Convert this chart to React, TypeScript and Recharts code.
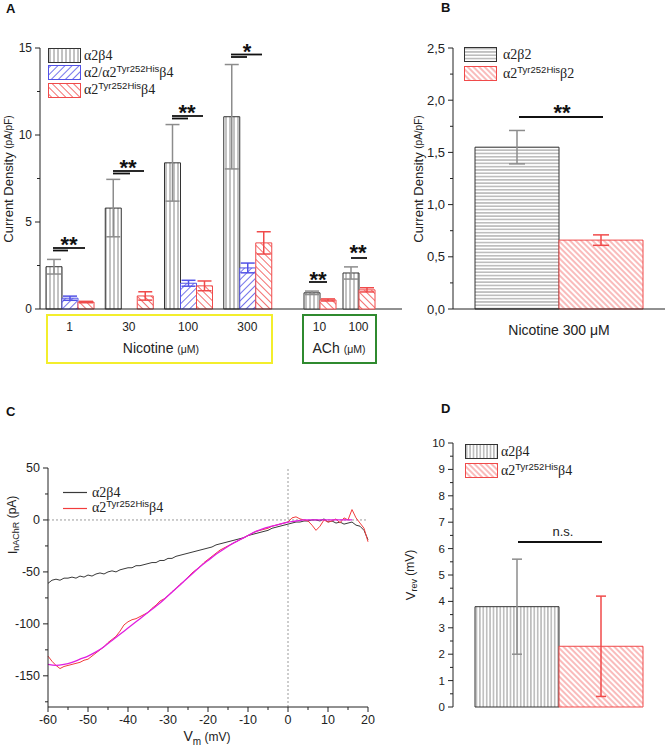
import React from "react";
import {
  Bar,
  BarChart,
  ErrorBar,
  Legend,
  Line,
  LineChart,
  ReferenceLine,
  XAxis,
  YAxis,
} from "recharts";

const SANS = "'Liberation Sans', Arial, Helvetica, sans-serif";
const SERIF = "'Liberation Serif', 'Times New Roman', serif";
const INK = "#222";
const RED = "#f04a4a";
const BLUE = "#5252e6";
const GREY_ERR = "#8c8c8c";

// ---- A: current density, nicotine and ACh
const nicConc = ["1", "30", "100", "300"];
const nicWt = [2.43, 5.8, 8.4, 11.05];
const nicWtErr = [0.42, 1.65, 2.2, 3.0];
const nicHet = [0.62, null, 1.48, 2.36];
const nicHetErr = [0.12, null, 0.17, 0.28];
const nicMut = [0.4, 0.75, 1.33, 3.8];
const nicMutErr = [0.04, 0.24, 0.28, 0.64];

const achConc = ["10", "100"];
const achWt = [0.93, 2.07];
const achWtErr = [0.1, 0.35];
const achMut = [0.52, 1.1];
const achMutErr = [0.06, 0.12];

// ---- B: alpha2 beta2, nicotine 300 uM
const bCond = ["Nicotine 300 μM"];
const bWt = [1.55];
const bWtErr = [0.16];
const bMut = [0.66];
const bMutErr = [0.05];

const vm = [
  -60, -59, -58, -57, -56, -55, -54, -53, -52, -51,
  -50, -49, -48, -47, -46, -45, -44, -43, -42, -41,
  -40, -39, -38, -37, -36, -35, -34, -33, -32, -31,
  -30, -29, -28, -27, -26, -25, -24, -23, -22, -21,
  -20, -19, -18, -17, -16, -15, -14, -13, -12, -11,
  -10, -9, -8, -7, -6, -5, -4, -3, -2, -1,
  0, 1, 2, 3, 4, 5, 6, 7, 8, 9,
  10, 11, 12, 13, 14, 15, 16, 17, 18, 19,
  20,
];
const iWt = [
  -61, -58, -57, -58, -56, -56, -55, -56, -54, -55,
  -53, -54, -52, -51, -52, -50, -49, -50, -48, -47,
  -46, -46, -44, -44, -43, -42, -41, -41, -39, -39,
  -37, -37, -35, -34, -33, -32, -31, -30, -29, -28,
  -27, -26, -24, -23, -22, -21, -20, -19, -18, -17,
  -15, -14, -13, -12, -11, -10, -8, -7, -6, -5,
  -4, -3, -2, -2, -1, -1, 0, 0, -1, 1,
  -2, -1, -3, -2, -4, -3, -2, -5, -6, -10,
  -19,
];
const iMut = [
  -131, -136, -140, -143, -141, -140, -139, -138, -137, -135,
  -134, -131, -128, -125, -122, -118, -115, -112, -107, -101,
  -98, -96, -95, -93, -91, -89, -85, -82, -78, -76,
  -73, -69, -66, -62, -59, -55, -51, -48, -45, -41,
  -38, -35, -32, -29, -27, -25, -23, -21, -19, -17,
  -15, -13, -11, -10, -9, -8, -6, -5, -4, -3,
  -2, 2, 3, 1, 0, -1, -5, -10, -6, 0,
  -2, -1, 1, -3, 2, 0, 10, 2, -3, -8,
  -21,
];
const fitVm = [
  -60, -58, -56, -54, -52, -50, -48, -46, -44, -42,
  -40, -38, -36, -34, -32, -30, -28, -26, -24, -22,
  -20, -18, -16, -14, -12, -10, -8, -6, -4, -2,
  0, 2, 4, 6, 8, 10, 12, 14, 16,
];
const fitI = [
  -139, -140, -139, -137, -134, -131, -127, -122, -116, -110,
  -104, -98, -92, -86, -80, -73, -66, -59, -52, -45,
  -39, -33, -28, -23, -19, -15, -11, -8, -6, -4,
  -2, -1, 0, 0, 0, 0, 0, 0, 0,
];

// ---- D: reversal potential
const dWt = [3.8];
const dWtErr = [1.8];
const dMut = [2.3];
const dMutErr = [1.9];

// tick lists
const aTicks = [0, 2.5, 5, 7.5, 10, 12.5, 15];
const bTicks = [0, 0.25, 0.5, 0.75, 1, 1.25, 1.5, 1.75, 2, 2.25, 2.5];
const cXTicks = [-60, -55, -50, -45, -40, -35, -30, -25, -20, -15, -10, -5, 0, 5, 10, 15, 20];
const cYTicks = [-175, -150, -125, -100, -75, -50, -25, 0, 25, 50];
const dTicks = [0, 0.5, 1, 1.5, 2, 2.5, 3, 3.5, 4, 4.5, 5, 5.5, 6, 6.5, 7, 7.5, 8, 8.5, 9, 9.5, 10];

const nicRows = nicConc.map((conc, i) => ({
  conc,
  wt: nicWt[i],
  wtErr: nicWtErr[i],
  het: nicHet[i],
  hetErr: nicHetErr[i],
  mut: nicMut[i],
  mutErr: nicMutErr[i],
}));
const achRows = achConc.map((conc, i) => ({
  conc,
  wt: achWt[i],
  wtErr: achWtErr[i],
  mut: achMut[i],
  mutErr: achMutErr[i],
}));
const bRows = bCond.map((name, i) => ({
  name,
  wt: bWt[i],
  wtErr: bWtErr[i],
  mut: bMut[i],
  mutErr: bMutErr[i],
}));
const cRows = vm.map((v, i) => ({ v, wt: iWt[i], mut: iMut[i] }));
const fitRows = fitVm.map((v, i) => ({ v, fit: fitI[i] }));
const dRows = dWt.map((wt, i) => ({ name: "", wt, wtErr: dWtErr[i], mut: dMut[i], mutErr: dMutErr[i] }));

// y ticks with short minor ticks, labels only on majors
const yTick =
  (isMajor: (v: number) => boolean, fmt: (v: number) => string, fontSize: number) =>
  (p: any) => {
    const v = p.payload.value as number;
    const major = isMajor(v);
    const len = major ? 5 : 3;
    return (
      <g>
        <line x1={p.x - len} x2={p.x} y1={p.y} y2={p.y} stroke={INK} />
        {major && (
          <text x={p.x - len - 3} y={p.y} dy="0.35em" textAnchor="end" fontSize={fontSize} fontFamily={SANS} fill={INK}>
            {fmt(v)}
          </text>
        )}
      </g>
    );
  };

const xTickC = (p: any) => {
  const v = p.payload.value as number;
  const major = v % 10 === 0;
  return (
    <g>
      <line x1={p.x} x2={p.x} y1={p.y} y2={p.y + (major ? 5 : 3)} stroke={INK} />
      {major && (
        <text x={p.x} y={p.y + 17} textAnchor="middle" fontSize={12.5} fontFamily={SANS} fill={INK}>
          {v}
        </text>
      )}
    </g>
  );
};

const catTick = (dy: number, fontSize: number) => (p: any) => (
  <text x={p.x} y={p.y + dy} textAnchor="middle" fontSize={fontSize} fontFamily={SANS} fill={INK}>
    {p.payload.value}
  </text>
);

const rotLabel = (x: number, y: number, body: React.ReactNode) => () => (
  <text
    transform={`translate(${x},${y}) rotate(-90)`}
    textAnchor="middle"
    dominantBaseline="central"
    fontFamily={SANS}
    fontSize={13}
    fill={INK}
  >
    {body}
  </text>
);

const comma = (v: number) => v.toFixed(1).replace(".", ",");

function Patterns() {
  return (
    <svg width={0} height={0} style={{ position: "absolute" }}>
      <defs>
        <pattern id="pAv" width={4} height={4} patternUnits="userSpaceOnUse">
          <rect width={4} height={4} fill="#fff" />
          <line x1={2} y1={0} x2={2} y2={4} stroke="#666" strokeWidth={0.8} />
        </pattern>
        <pattern id="pDv" width={3.4} height={4} patternUnits="userSpaceOnUse">
          <rect width={3.4} height={4} fill="#fff" />
          <line x1={1.7} y1={0} x2={1.7} y2={4} stroke="#555" strokeWidth={0.7} />
        </pattern>
        <pattern id="pBh" width={4} height={3.3} patternUnits="userSpaceOnUse">
          <rect width={4} height={3.3} fill="#fff" />
          <line x1={0} y1={1.65} x2={4} y2={1.65} stroke="#555" strokeWidth={0.7} />
        </pattern>
        <pattern id="pBlue" width={5} height={5} patternUnits="userSpaceOnUse" patternTransform="rotate(45)">
          <rect width={5} height={5} fill="#fff" />
          <line x1={2.5} y1={0} x2={2.5} y2={5} stroke={BLUE} strokeWidth={0.8} />
        </pattern>
        <pattern id="pRed" width={5} height={5} patternUnits="userSpaceOnUse" patternTransform="rotate(-45)">
          <rect width={5} height={5} fill="#fff" />
          <line x1={2.5} y1={0} x2={2.5} y2={5} stroke={RED} strokeWidth={0.8} />
        </pattern>
        <pattern id="pRedFine" width={4} height={4} patternUnits="userSpaceOnUse" patternTransform="rotate(-45)">
          <rect width={4} height={4} fill="#fff" />
          <line x1={2} y1={0} x2={2} y2={4} stroke={RED} strokeWidth={0.75} />
        </pattern>
      </defs>
    </svg>
  );
}

const Sup = ({ children }: { children: React.ReactNode }) => (
  <span style={{ fontFamily: SANS, fontSize: 9.5, position: "relative", top: -5 }}>{children}</span>
);

function Swatch({ fill, stroke }: { fill: string; stroke: string }) {
  return (
    <svg width={33} height={15} style={{ display: "block", flex: "none" }}>
      <rect x={0.5} y={0.5} width={32} height={14} fill={fill} stroke={stroke} />
    </svg>
  );
}

function LineSwatch({ color }: { color: string }) {
  return (
    <svg width={24} height={13} style={{ display: "block", flex: "none" }}>
      <line x1={0} x2={24} y1={6.5} y2={6.5} stroke={color} strokeWidth={1.2} />
    </svg>
  );
}

type Row = { swatch: React.ReactNode; label: React.ReactNode };

function LegendRows({ rows, pitch, gap }: { rows: Row[]; pitch: number; gap: number }) {
  return (
    <div style={{ fontFamily: SERIF, fontSize: 14, color: INK, lineHeight: "15px", whiteSpace: "nowrap" }}>
      {rows.map((r, i) => (
        <div key={i} style={{ display: "flex", alignItems: "center", height: pitch }}>
          {r.swatch}
          <span style={{ marginLeft: gap }}>{r.label}</span>
        </div>
      ))}
    </div>
  );
}

function PanelA() {
  return (
    <div style={{ position: "absolute", left: 0, top: 0 }}>
      <BarChart width={420} height={370} data={nicRows} margin={{ top: 48, right: 18, bottom: 31, left: 8 }} barGap={0}>
        <XAxis
          dataKey="conc"
          height={30}
          padding={{ left: 0, right: 125 }}
          interval={0}
          tickSize={0}
          tickMargin={0}
          tickLine={false}
          tick={catTick(22, 12)}
          axisLine={{ stroke: INK }}
        />
        <YAxis
          domain={[0, 15]}
          ticks={aTicks}
          interval={0}
          width={32}
          tickSize={0}
          tickMargin={0}
          tickLine={false}
          tick={yTick((v) => v % 5 === 0, String, 12)}
          axisLine={{ stroke: INK }}
          label={{
            content: rotLabel(8, 179, (
              <>
                Current Density <tspan fontSize={10}>(pA/pF)</tspan>
              </>
            )),
          }}
        />
        <Bar dataKey="wt" barSize={16} fill="url(#pAv)" stroke="#333" isAnimationActive={false}>
          <ErrorBar dataKey="wtErr" width={7} stroke={GREY_ERR} />
        </Bar>
        <Bar dataKey="het" barSize={16} fill="url(#pBlue)" stroke={BLUE} isAnimationActive={false}>
          <ErrorBar dataKey="hetErr" width={7} stroke={BLUE} />
        </Bar>
        <Bar dataKey="mut" barSize={16} fill="url(#pRed)" stroke={RED} isAnimationActive={false}>
          <ErrorBar dataKey="mutErr" width={7} stroke={RED} />
        </Bar>
        <Legend
          layout="vertical"
          align="center"
          verticalAlign="middle"
          wrapperStyle={{ left: 48, top: 46.5, width: 200, height: 53 }}
          content={() => (
            <LegendRows
              pitch={17.5}
              gap={3}
              rows={[
                { swatch: <Swatch fill="url(#pAv)" stroke="#333" />, label: "α2β4" },
                {
                  swatch: <Swatch fill="url(#pBlue)" stroke={BLUE} />,
                  label: (
                    <>
                      α2/α2<Sup>Tyr252His</Sup>β4
                    </>
                  ),
                },
                {
                  swatch: <Swatch fill="url(#pRed)" stroke={RED} />,
                  label: (
                    <>
                      α2<Sup>Tyr252His</Sup>β4
                    </>
                  ),
                },
              ]}
            />
          )}
        />
      </BarChart>
      <div style={{ position: "absolute", left: 0, top: 0 }}>
        <BarChart width={420} height={370} data={achRows} margin={{ top: 48, right: 18, bottom: 31, left: 40 }} barGap={0}>
          <XAxis
            dataKey="conc"
            height={30}
            padding={{ left: 260, right: 24 }}
            interval={0}
            tickSize={0}
            tickMargin={0}
            tickLine={false}
            tick={catTick(22, 12)}
            axisLine={false}
          />
          <YAxis hide domain={[0, 15]} />
          <Bar dataKey="wt" barSize={16} fill="url(#pAv)" stroke="#333" isAnimationActive={false}>
            <ErrorBar dataKey="wtErr" width={7} stroke={GREY_ERR} />
          </Bar>
          <Bar dataKey="mut" barSize={16} fill="url(#pRed)" stroke={RED} isAnimationActive={false}>
            <ErrorBar dataKey="mutErr" width={7} stroke={RED} />
          </Bar>
        </BarChart>
      </div>
    </div>
  );
}

function PanelB() {
  return (
    <div style={{ position: "absolute", left: 400, top: 0 }}>
      <BarChart width={266} height={345} data={bRows} margin={{ top: 48, right: 1, bottom: 6, left: 13 }} barGap={0}>
        <XAxis
          dataKey="name"
          height={30}
          interval={0}
          tickSize={0}
          tickMargin={0}
          tickLine={false}
          tick={catTick(26, 14)}
          axisLine={{ stroke: INK }}
        />
        <YAxis
          domain={[0, 2.5]}
          ticks={bTicks}
          interval={0}
          width={40}
          tickSize={0}
          tickMargin={0}
          tickLine={false}
          tick={yTick((v) => Math.abs(v * 2 - Math.round(v * 2)) < 1e-6, comma, 13)}
          axisLine={{ stroke: INK }}
          label={{
            content: rotLabel(18, 179, (
              <>
                Current Density <tspan fontSize={10}>(pA/pF)</tspan>
              </>
            )),
          }}
        />
        <Bar dataKey="wt" barSize={84} fill="url(#pBh)" stroke="#333" isAnimationActive={false}>
          <ErrorBar dataKey="wtErr" width={8} stroke={GREY_ERR} />
        </Bar>
        <Bar dataKey="mut" barSize={84} fill="url(#pRedFine)" stroke={RED} isAnimationActive={false}>
          <ErrorBar dataKey="mutErr" width={8} stroke={RED} />
        </Bar>
        <Legend
          layout="vertical"
          align="center"
          verticalAlign="middle"
          wrapperStyle={{ left: 64, top: 45, width: 180, height: 38 }}
          content={() => (
            <LegendRows
              pitch={19}
              gap={6}
              rows={[
                { swatch: <Swatch fill="url(#pBh)" stroke="#333" />, label: "α2β2" },
                {
                  swatch: <Swatch fill="url(#pRedFine)" stroke={RED} />,
                  label: (
                    <>
                      α2<Sup>Tyr252His</Sup>β2
                    </>
                  ),
                },
              ]}
            />
          )}
        />
      </BarChart>
    </div>
  );
}

function PanelC() {
  return (
    <div style={{ position: "absolute", left: 0, top: 390 }}>
      <LineChart width={400} height={359} data={cRows} margin={{ top: 78, right: 32, bottom: 12, left: 8 }}>
        <XAxis
          dataKey="v"
          type="number"
          domain={[-60, 20]}
          ticks={cXTicks}
          interval={0}
          height={30}
          tickSize={0}
          tickMargin={0}
          tickLine={false}
          tick={xTickC}
          axisLine={{ stroke: INK }}
          label={{
            content: () => (
              <text x={207} y={351} textAnchor="middle" fontFamily={SANS} fontSize={14} fill={INK}>
                V<tspan fontSize={10} dy={4}>m</tspan>
                <tspan fontSize={12} dy={-4}> (mV)</tspan>
              </text>
            ),
          }}
        />
        <YAxis
          type="number"
          domain={[-180, 50]}
          ticks={cYTicks}
          interval={0}
          width={40}
          tickSize={0}
          tickMargin={0}
          tickLine={false}
          tick={yTick((v) => v % 50 === 0, String, 12.5)}
          axisLine={{ stroke: INK }}
          label={{
            content: rotLabel(12, 135, (
              <>
                <tspan fontSize={13}>I</tspan>
                <tspan fontSize={9} dy={4}>nAChR</tspan>
                <tspan fontSize={12} dy={-4}> (pA)</tspan>
              </>
            )),
          }}
        />
        <ReferenceLine y={0} stroke="#9a9a9a" strokeDasharray="2 2" />
        <ReferenceLine x={0} stroke="#9a9a9a" strokeDasharray="2 2" />
        <Line dataKey="wt" type="linear" stroke="#3a3a3a" strokeWidth={1} dot={false} isAnimationActive={false} />
        <Line dataKey="mut" type="linear" stroke="#f23c3c" strokeWidth={1} dot={false} isAnimationActive={false} />
        <Line
          data={fitRows}
          dataKey="fit"
          type="monotone"
          stroke="#e01ee0"
          strokeWidth={1.3}
          dot={false}
          isAnimationActive={false}
        />
        <Legend
          layout="vertical"
          align="center"
          verticalAlign="middle"
          wrapperStyle={{ left: 63, top: 94, width: 180, height: 32 }}
          content={() => (
            <LegendRows
              pitch={16}
              gap={5}
              rows={[
                { swatch: <LineSwatch color="#3a3a3a" />, label: "α2β4" },
                {
                  swatch: <LineSwatch color="#f23c3c" />,
                  label: (
                    <>
                      α2<Sup>Tyr252His</Sup>β4
                    </>
                  ),
                },
              ]}
            />
          )}
        />
      </LineChart>
    </div>
  );
}

function PanelD() {
  return (
    <div style={{ position: "absolute", left: 400, top: 390 }}>
      <BarChart width={266} height={359} data={dRows} margin={{ top: 53, right: 2, bottom: 42, left: 13 }} barGap={0}>
        <XAxis dataKey="name" height={0} tick={false} tickLine={false} axisLine={{ stroke: INK }} />
        <YAxis
          domain={[0, 10]}
          ticks={dTicks}
          interval={0}
          width={40}
          tickSize={0}
          tickMargin={0}
          tickLine={false}
          tick={yTick((v) => Number.isInteger(v), String, 11.5)}
          axisLine={{ stroke: INK }}
          label={{
            content: rotLabel(10, 185, (
              <>
                V<tspan fontSize={9} dy={4}>rev</tspan>
                <tspan fontSize={12} dy={-4}> (mV)</tspan>
              </>
            )),
          }}
        />
        <Bar dataKey="wt" barSize={84} fill="url(#pDv)" stroke="#333" isAnimationActive={false}>
          <ErrorBar dataKey="wtErr" width={5} stroke={GREY_ERR} />
        </Bar>
        <Bar dataKey="mut" barSize={84} fill="url(#pRedFine)" stroke={RED} isAnimationActive={false}>
          <ErrorBar dataKey="mutErr" width={5} stroke={RED} />
        </Bar>
        <Legend
          layout="vertical"
          align="center"
          verticalAlign="middle"
          wrapperStyle={{ left: 65, top: 52, width: 180, height: 38 }}
          content={() => (
            <LegendRows
              pitch={19}
              gap={3}
              rows={[
                { swatch: <Swatch fill="url(#pDv)" stroke="#333" />, label: "α2β4" },
                {
                  swatch: <Swatch fill="url(#pRedFine)" stroke={RED} />,
                  label: (
                    <>
                      α2<Sup>Tyr252His</Sup>β4
                    </>
                  ),
                },
              ]}
            />
          )}
        />
      </BarChart>
    </div>
  );
}

// panel letters, concentration boxes and significance marks
function Overlay() {
  const star = (x: number, y: number, s: string) => (
    <text x={x} y={y + 12} textAnchor="middle" fontFamily={SANS} fontWeight="bold" fontSize={22} fill="#111">
      {s}
    </text>
  );
  const seg = (x1: number, x2: number, y: number, w = 1.8) => (
    <line x1={x1} x2={x2} y1={y} y2={y} stroke="#111" strokeWidth={w} />
  );
  const letter = (x: number, y: number, s: string) => (
    <text x={x} y={y} fontFamily={SANS} fontWeight="bold" fontSize={13} fill="#111">
      {s}
    </text>
  );
  return (
    <svg width={666} height={749} style={{ position: "absolute", left: 0, top: 0, pointerEvents: "none" }}>
      {letter(6, 13, "A")}
      {letter(441, 12, "B")}
      {letter(6, 416, "C")}
      {letter(441, 413, "D")}

      <rect x={47} y={315} width={225} height={48} fill="none" stroke="#f3ee2c" strokeWidth={2} />
      <rect x={303} y={315} width={73} height={48} fill="none" stroke="#2f8a2f" strokeWidth={2} />
      <text x={161} y={353} textAnchor="middle" fontFamily={SANS} fontSize={14} fill={INK}>
        Nicotine <tspan fontSize={10.5}>(μM)</tspan>
      </text>
      <text x={339} y={353} textAnchor="middle" fontFamily={SANS} fontSize={14} fill={INK}>
        ACh <tspan fontSize={10.5}>(μM)</tspan>
      </text>

      {star(69, 240, "**")}
      {seg(53, 85, 248)}
      {seg(53, 68, 250.5)}
      {star(128, 163, "**")}
      {seg(113, 144, 171)}
      {seg(113, 130, 173.5)}
      {star(187, 108, "**")}
      {seg(172, 203, 116)}
      {seg(172, 188, 118.5)}
      {star(247, 47, "*")}
      {seg(231, 262, 54.5)}
      {seg(231, 247, 57)}
      {star(318, 275, "**")}
      {seg(309, 327, 282)}
      {star(358, 248, "**")}
      {seg(351, 367, 258)}

      {star(562, 108, "**")}
      {seg(519, 603, 117)}

      <text x={563} y={536} textAnchor="middle" fontFamily={SANS} fontSize={13} fill={INK}>
        n.s.
      </text>
      {seg(518, 602, 542)}
    </svg>
  );
}

export default function App() {
  return (
    <div
      style={{
        position: "absolute",
        left: 0,
        top: 0,
        width: 666,
        height: 749,
        background: "#fff",
        overflow: "hidden",
      }}
    >
      <Patterns />
      <PanelA />
      <PanelB />
      <PanelC />
      <PanelD />
      <Overlay />
    </div>
  );
}
